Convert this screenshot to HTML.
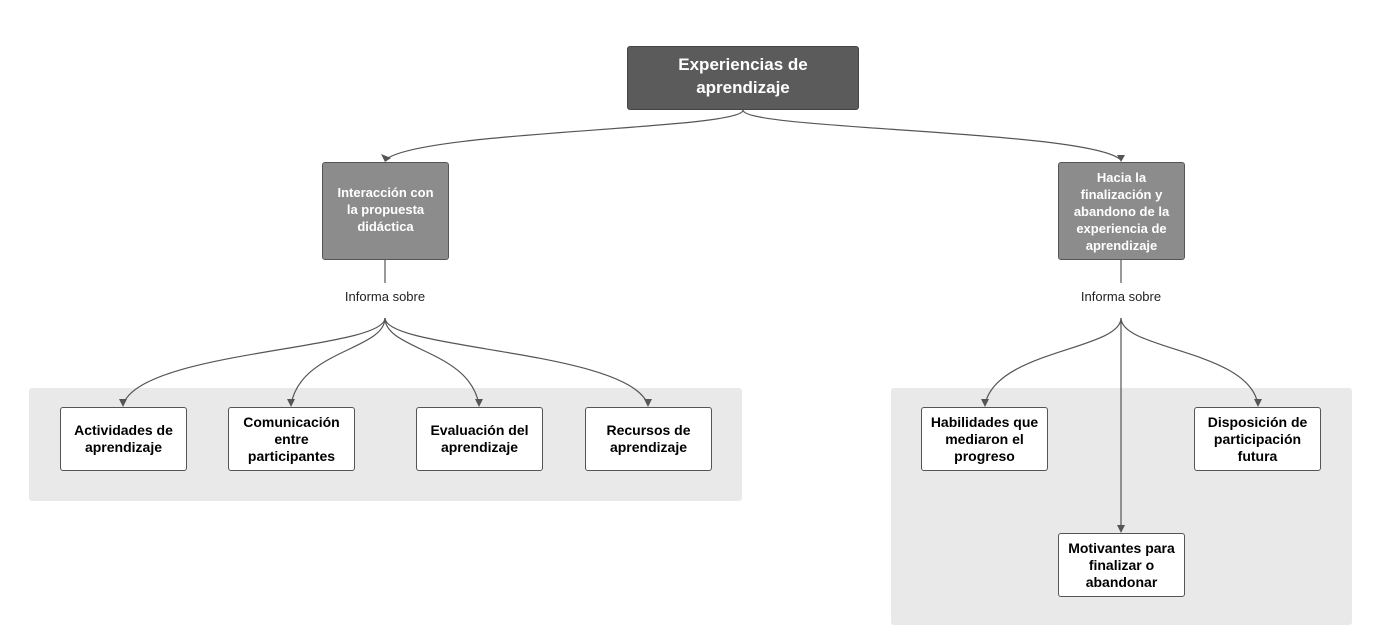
<!DOCTYPE html>
<html><head><meta charset="utf-8"><style>
body{margin:0;width:1383px;height:627px;background:#fff;position:relative;overflow:hidden;font-family:"Liberation Sans",sans-serif}
.b{position:absolute;box-sizing:border-box;display:flex;align-items:center;justify-content:center;text-align:center;font-weight:bold;border-radius:3px}
.w{background:#fff;border:1.5px solid #555;color:#000;font-size:14px;line-height:17px;width:127px;height:64px}
.g{background:#8c8c8c;border:1.5px solid #555;color:#fff;font-size:13px;line-height:17px;width:127px;height:98px;padding:0 9px}
.p{position:absolute;background:#e9e9e9;border-radius:3px}
.l{position:absolute;font-size:13px;color:#222;width:120px;text-align:center}
</style></head><body>
<div class="p" style="left:29px;top:388px;width:713px;height:113px"></div>
<div class="p" style="left:891px;top:388px;width:461px;height:237px"></div>
<svg width="1383" height="627" style="position:absolute;left:0;top:0">
<g fill="none" stroke="#555" stroke-width="1.2">
<path d="M743,110 C743,130 420,130 385,160"/>
<path d="M743,110 C743,130 1090,130 1121,160"/>
<path d="M385,260 V283"/><path d="M1121,260 V283"/>
<path d="M385,318 C385,350 140,350 123,405"/>
<path d="M385,318 C385,350 300,350 291,405"/>
<path d="M385,318 C385,350 470,350 479,405"/>
<path d="M385,318 C385,350 630,350 648,405"/>
<path d="M1121,318 C1121,350 995,350 985,405"/>
<path d="M1121,318 C1121,350 1250,350 1258,405"/>
<path d="M1121,318 V531"/>
</g>
<g fill="#555">
<path d="M381,154 L391,158 L385,162 Z"/>
<path d="M1117,155 L1125,155 L1121,162 Z"/>
<path d="M119,399 L127,399 L123,407 Z"/><path d="M287,399 L295,399 L291,407 Z"/>
<path d="M475,399 L483,399 L479,407 Z"/><path d="M644,399 L652,399 L648,407 Z"/>
<path d="M981,399 L989,399 L985,407 Z"/><path d="M1254,399 L1262,399 L1258,407 Z"/>
<path d="M1117,525 L1125,525 L1121,533 Z"/>
</g>
</svg>
<div class="b" style="left:627px;top:46px;width:232px;height:64px;background:#5b5b5b;color:#fff;font-size:17px;line-height:23px;border:1px solid #444;padding-bottom:4px">Experiencias de<br>aprendizaje</div>
<div class="b g" style="left:322px;top:162px;padding-bottom:4px">Interacción con<br>la propuesta<br>didáctica</div>
<div class="b g" style="left:1058px;top:162px">Hacia la finalización y abandono de la experiencia de aprendizaje</div>
<div class="l" style="left:325px;top:289px">Informa sobre</div>
<div class="l" style="left:1061px;top:289px">Informa sobre</div>
<div class="b w" style="left:60px;top:407px">Actividades de<br>aprendizaje</div>
<div class="b w" style="left:228px;top:407px">Comunicación<br>entre<br>participantes</div>
<div class="b w" style="left:416px;top:407px">Evaluación del<br>aprendizaje</div>
<div class="b w" style="left:585px;top:407px">Recursos de<br>aprendizaje</div>
<div class="b w" style="left:921px;top:407px">Habilidades que<br>mediaron el<br>progreso</div>
<div class="b w" style="left:1194px;top:407px">Disposición de<br>participación<br>futura</div>
<div class="b w" style="left:1058px;top:533px">Motivantes para<br>finalizar o<br>abandonar</div>
</body></html>
